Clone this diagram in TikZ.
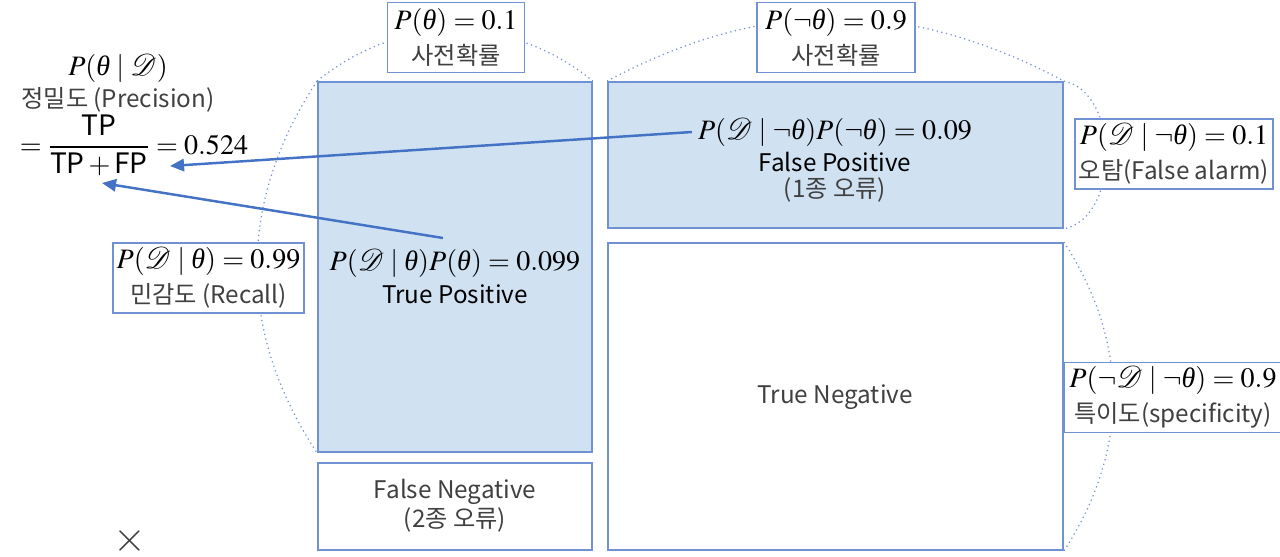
\documentclass[tikz,border=0pt]{standalone}
\usepackage{amsmath}
\usepackage{mathptmx}
\usepackage{mathrsfs}
\usepackage{fontspec}
\setmainfont{Noto Sans CJK KR}
\newfontfamily\timesfont{Liberation Serif}
\usetikzlibrary{arrows.meta, positioning}

\definecolor{boxline}{RGB}{112,146,210}
\definecolor{boxfill}{RGB}{208,225,242}
\definecolor{arrowblue}{RGB}{68,114,196}
\definecolor{textgray}{RGB}{64,64,64}

\newcommand{\kr}[1]{{\fontsize{13.8}{16}\selectfont\color{textgray}#1}}
\newcommand{\thet}{\mathord{\text{\timesfont\itshape θ}}}

\tikzset{
  cell/.style={draw=boxline, line width=1.1pt, inner sep=0pt},
  tag/.style={draw=boxline, line width=1pt, fill=white, align=center, inner sep=0pt,
    minimum height=1.4cm, font=\fontsize{16}{19}\selectfont},
  arcline/.style={boxline, line width=0.7pt, dotted},
  link/.style={arrowblue, line width=1.4pt, -{Triangle[length=8pt,width=7pt]}},
  mtext/.style={font=\fontsize{16}{19}\selectfont},
  ltext/.style={font=\fontsize{13.8}{16}\selectfont, text=textgray},
}

\begin{document}
\begin{tikzpicture}[x=0.02cm, y=0.02cm]
  \useasboundingbox (0,0) rectangle (1280,-556);

  % cells of the table
  \node[cell, fill=boxfill, minimum width=5.48cm, minimum height=7.4cm] (tp) at (455,-267) {};
  \node[cell, fill=white, minimum width=5.48cm, minimum height=1.74cm] (fn) at (455,-506.5) {};
  \node[cell, fill=boxfill, minimum width=9.1cm, minimum height=2.92cm] (fp) at (835.5,-155) {};
  \node[cell, fill=white, minimum width=9.1cm, minimum height=6.14cm] (tn) at (835.5,-396.5) {};

  % dotted arcs
  \draw[arcline] (tp.north west) to[bend left=39] (tp.north east);
  \draw[arcline] (fp.north west) to[bend left=28] (fp.north east);
  \draw[arcline] (fp.north east) to[bend left=78] (fp.south east);
  \draw[arcline] (tn.north east) to[bend left=33] (tn.south east);
  \draw[arcline] (tp.north west) to[bend right=33.5] (tp.south west);

  % texts in the cells
  \node[mtext] (tpmath) at (455,-263) {$P(\mathscr{D}\mid\thet)P(\thet)=0.099$};
  \node[ltext, text=black] (tplab) at (455,-294) {True Positive};
  \node[mtext] (fpmath) at (835,-132) {$P(\mathscr{D}\mid\neg\thet)P(\neg\thet)=0.09$};
  \node[ltext, text=black] (fplab) at (835,-162) {False Positive};
  \node[ltext] (fperr) at (835,-190) {(1종 오류)};
  \node[ltext] (tnlab) at (835,-397) {True Negative};
  \node[ltext] (fnlab) at (455,-492) {False Negative};
  \node[ltext] (fnerr) at (455,-520) {(2종 오류)};

  % probability tags
  \node[tag, minimum width=2.74cm] (prior) at (456,-37.5) {$P(\thet)=0.1$\\[1pt]\kr{사전확률}};
  \node[tag, minimum width=3.16cm] (notprior) at (836,-37.5) {$P(\neg\thet)=0.9$\\[1pt]\kr{사전확률}};
  \node[tag, minimum width=3.96cm] (alarm) at (1174,-154) {$P(\mathscr{D}\mid\neg\thet)=0.1$\\[1pt]\kr{오탐(False alarm)}};
  \node[tag, minimum width=4.36cm] (spec) at (1173,-397.5) {$P(\neg\mathscr{D}\mid\neg\thet)=0.9$\\[1pt]\kr{특이도(specificity)}};
  \node[tag, minimum width=3.82cm] (recall) at (208.5,-278) {$P(\mathscr{D}\mid\thet)=0.99$\\[1pt]\kr{민감도 (Recall)}};

  % precision
  \node[mtext] (pmath) at (118,-68) {$P(\thet\mid\mathscr{D})$};
  \node[ltext] (pname) at (118,-100) {정밀도 (Precision)};
  \node[mtext] (pfrac) at (134,-145) {$=\dfrac{\text{TP}}{\text{TP}+\text{FP}}=0.524$};

  \coordinate (fpend) at (170,-166);
  \coordinate (tpstart) at (443,-238);
  \coordinate (tpend) at (102,-183);
  \draw[link] (fpmath.west) -- (fpend);
  \draw[link] (tpstart) -- (tpend);

  \node[text=textgray, font=\fontsize{24}{24}\selectfont] (close) at (130,-541) {$\times$};
\end{tikzpicture}
\end{document}
